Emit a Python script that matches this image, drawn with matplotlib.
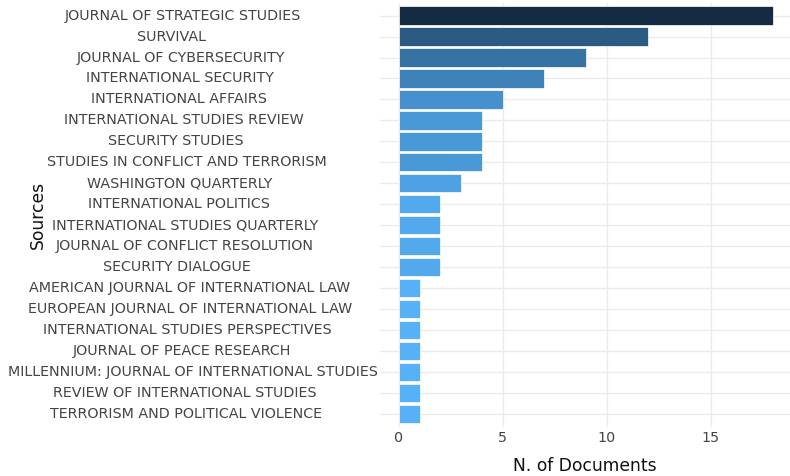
import matplotlib
matplotlib.use("Agg")
import matplotlib.pyplot as plt
import numpy as np

sources = [
    "JOURNAL OF STRATEGIC STUDIES",
    "SURVIVAL",
    "JOURNAL OF CYBERSECURITY",
    "INTERNATIONAL SECURITY",
    "INTERNATIONAL AFFAIRS",
    "INTERNATIONAL STUDIES REVIEW",
    "SECURITY STUDIES",
    "STUDIES IN CONFLICT AND TERRORISM",
    "WASHINGTON QUARTERLY",
    "INTERNATIONAL POLITICS",
    "INTERNATIONAL STUDIES QUARTERLY",
    "JOURNAL OF CONFLICT RESOLUTION",
    "SECURITY DIALOGUE",
    "AMERICAN JOURNAL OF INTERNATIONAL LAW",
    "EUROPEAN JOURNAL OF INTERNATIONAL LAW",
    "INTERNATIONAL STUDIES PERSPECTIVES",
    "JOURNAL OF PEACE RESEARCH",
    "MILLENNIUM: JOURNAL OF INTERNATIONAL STUDIES",
    "REVIEW OF INTERNATIONAL STUDIES",
    "TERRORISM AND POLITICAL VIOLENCE",
]
documents = [18, 12, 9, 7, 5, 4, 4, 4, 3, 2, 2, 2, 2, 1, 1, 1, 1, 1, 1, 1]
x_ticks = [0, 5, 10, 15]

W, H = 790, 476
fig = plt.figure(figsize=(W / 100, H / 100), dpi=100)
ax = fig.add_axes([380 / W, 1 - 426.6 / H, 410 / W, (426.6 - 3) / H])

low = np.array([0x56, 0xB1, 0xF7]) / 255
high = np.array([0x13, 0x2B, 0x43]) / 255
vmin, vmax = min(documents), max(documents)
colors = [tuple(low + (high - low) * (v - vmin) / (vmax - vmin)) for v in documents]

y = np.arange(len(sources))
ax.barh(y, documents, height=0.87, color=colors, edgecolor="white", linewidth=0.5, zorder=3)
ax.set_ylim(len(sources) - 0.4, -0.6)
ax.set_xlim(-0.9, 18.8)
ax.set_xticks(x_ticks)
ax.set_xticklabels([str(t) for t in x_ticks], color="#444444", fontsize=10.3)
ax.set_yticks(y)
ax.set_yticklabels([])
ax.tick_params(axis="both", length=0, pad=3.5)
ax.grid(True, color="#ebebeb", linewidth=1, zorder=0)
for s in ax.spines.values():
    s.set_visible(False)

ax.set_xlabel("N. of Documents", fontsize=12.3, color="#111111", labelpad=8)

# category labels, positioned as in the reference
fig.canvas.draw()
renderer = fig.canvas.get_renderer()
for i, name in enumerate(sources):
    t = fig.text(0, 0, name, fontsize=10.3, color="#444444", ha="left", va="center")
    bb = t.get_window_extent(renderer)
    w = bb.width
    ypix = ax.transData.transform((0, i))[1]
    t.set_position(((166 - 0.427 * w) / W, ypix / H))

fig.text(38 / W, 1 - 215 / H, "Sources", rotation=90, fontsize=12.3, color="#111111",
         ha="center", va="center")

fig.savefig("out.png", dpi=100, facecolor="white")
